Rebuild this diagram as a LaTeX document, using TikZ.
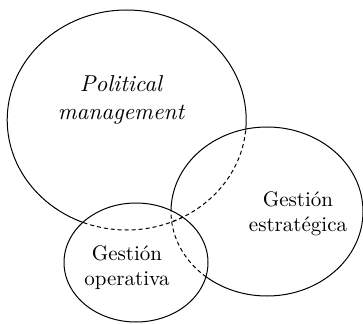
\documentclass[tikz,border=0pt]{standalone}
\usepackage{graphicx}
\begin{document}
\begin{tikzpicture}[x=1pt,y=-1pt,
  outline/.style={line width=1pt},
  hidden/.style={outline,dash pattern=on 4pt off 3pt},
  label/.style={inner sep=0pt}]
\useasboundingbox (0,0) rectangle (363,323);
% the three sets
\def\politicalE{(126.7,120) ellipse (119.5pt and 110pt)}
\def\strategicE{(267,211.5) ellipse (96pt and 84.5pt)}
\def\operativeE{(136,262.5) ellipse (72pt and 59.5pt)}
\def\frameR{(-20,-20) rectangle (400,360)}
% back set: solid where uncovered, dashed behind the others
\begin{scope}[even odd rule]
  \path[clip] \frameR \strategicE;
  \path[clip] \frameR \operativeE;
  \draw[outline] \politicalE;
\end{scope}
\begin{scope}
  \path[clip] \strategicE;
  \draw[hidden] \politicalE;
\end{scope}
\begin{scope}
  \path[clip] \operativeE;
  \draw[hidden] \politicalE;
\end{scope}
% middle set
\begin{scope}[even odd rule]
  \path[clip] \frameR \operativeE;
  \draw[outline] \strategicE;
\end{scope}
\begin{scope}
  \path[clip] \operativeE;
  \draw[hidden] \strategicE;
\end{scope}
% front set
\draw[outline] \operativeE;
% labels
\node[label] (pol) at (121,100) {\scalebox{2.3}{\itshape\begin{tabular}{@{}c@{}}Political\\management\end{tabular}}};
\node[label] (est) at (298,214) {\scalebox{2.1}{\begin{tabular}{@{}c@{}}Gestión\\estratégica\end{tabular}}};
\node[label] (ope) at (127,268) {\scalebox{2.1}{\begin{tabular}{@{}c@{}}Gestión\\operativa\end{tabular}}};
\end{tikzpicture}
\end{document}
